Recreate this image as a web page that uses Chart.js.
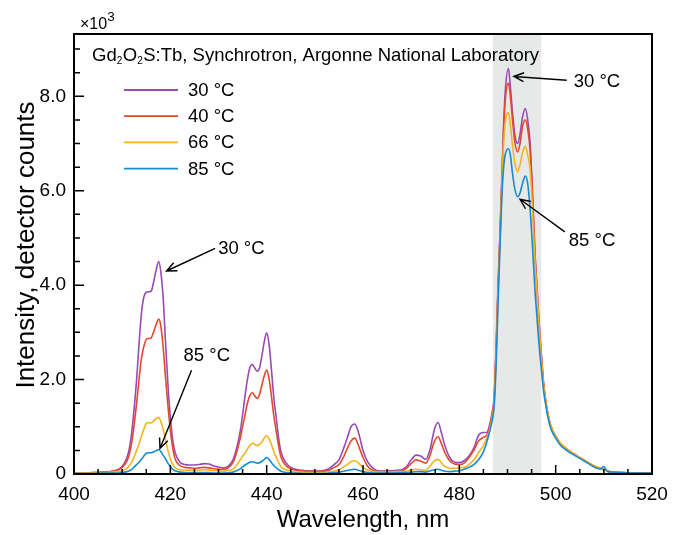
<!DOCTYPE html>
<html>
<head>
<meta charset="utf-8">
<script src="https://cdn.jsdelivr.net/npm/chart.js@4"></script>
<style>
  html, body { margin: 0; padding: 0; background: #fff; }
  #wrap { width: 682px; height: 535px; }
</style>
</head>
<body>
<div id="wrap"><canvas id="chart" width="682" height="535"></canvas></div>
<script>
const FONT = '"Liberation Sans", Arial, Helvetica, sans-serif';

const wavelength = [
  400, 402, 404, 406, 408, 409, 410, 411, 411.5, 412, 412.5, 413, 413.5, 414, 414.5, 415, 415.5, 416, 416.5, 417,
  417.6, 418, 418.5, 419, 419.5, 420, 420.5, 421, 422, 423, 424, 425, 426, 427, 428, 429, 430, 431, 432, 433,
  433.5, 434, 434.5, 435, 435.5, 436, 436.5, 437, 437.5, 438, 438.5, 439, 439.5, 440, 440.5, 441, 441.5, 442, 442.5, 443,
  444, 445, 446, 448, 450, 452, 453, 454, 455, 456, 457, 457.5, 458.3, 459, 459.5, 460, 461, 462, 463, 464,
  466, 468, 469, 470, 471, 472, 473, 474, 474.5, 475, 475.6, 476.2, 477, 478, 479, 480, 481, 482, 483, 484,
  485, 485.7, 486.3, 486.8, 487.2, 487.6, 488, 488.4, 488.8, 489.2, 489.6, 490.2, 490.6, 491, 491.5, 492.1, 492.6, 493.1, 493.7, 494.2,
  494.7, 495.2, 495.7, 496.1, 496.5, 497, 497.5, 498, 498.5, 499, 500, 501, 502, 503, 504, 505, 506, 507, 508, 509,
  509.5, 510, 510.5, 511, 512, 514, 516, 518, 520
];

// intensity in units of 10^3 detector counts
const counts30C = [
  .02, .02, .03, .04, .06, .09, .16, .35, .55, .9, 1.4, 2.0, 2.75, 3.4, 3.75, 3.85, 3.86, 3.87, 4.05, 4.3,
  4.5, 4.3, 3.75, 2.8, 1.9, 1.2, .72, .45, .25, .2, .19, .19, .2, .22, .21, .17, .15, .13, .16, .3,
  .45, .65, .9, 1.25, 1.65, 2.0, 2.25, 2.32, 2.25, 2.18, 2.24, 2.5, 2.8, 2.99, 2.75, 2.2, 1.6, 1.18, .75, .46,
  .24, .14, .1, .07, .06, .08, .12, .2, .3, .55, .85, 1.0, 1.06, .9, .7, .5, .25, .13, .07, .06,
  .07, .09, .15, .3, .4, .38, .31, .55, .8, 1.0, 1.09, .9, .6, .35, .25, .24, .28, .38, .55, .82,
  .88, .88, 1.05, 1.3, 1.6, 2.6, 3.9, 5.0, 6.2, 7.4, 8.2, 8.59, 8.2, 7.7, 7.2, 7.0, 7.2, 7.55, 7.74, 7.5,
  7.0, 5.95, 4.7, 4.0, 3.3, 2.6, 1.92, 1.5, 1.21, 1.0, .8, .64, .55, .47, .41, .34, .28, .22, .16, .12,
  .1, .09, .07, .05, .04, .03, .02, .02, .02
];
const counts40C = [
  .02, .02, .03, .04, .06, .08, .14, .28, .42, .68, 1.05, 1.5, 2.0, 2.45, 2.7, 2.85, 2.87, 2.88, 3.0, 3.15,
  3.28, 3.15, 2.7, 2.05, 1.45, .93, .55, .32, .18, .14, .13, .12, .13, .14, .13, .11, .1, .1, .13, .24,
  .37, .55, .75, 1.0, 1.25, 1.5, 1.66, 1.72, 1.66, 1.6, 1.68, 1.88, 2.08, 2.2, 2.02, 1.64, 1.22, .9, .58, .35,
  .18, .11, .08, .06, .05, .06, .08, .14, .2, .37, .6, .7, .76, .62, .48, .35, .16, .08, .06, .05,
  .05, .06, .12, .22, .3, .27, .23, .42, .6, .73, .79, .66, .45, .28, .21, .2, .23, .35, .5, .7,
  .78, .82, 1.0, 1.25, 1.55, 2.5, 3.8, 4.9, 6.1, 7.3, 8.0, 8.28, 8.0, 7.55, 7.05, 6.82, 7.0, 7.35, 7.5, 7.3,
  6.85, 5.85, 4.65, 3.95, 3.25, 2.55, 1.9, 1.5, 1.22, 1.02, .8, .65, .56, .48, .42, .35, .29, .23, .17, .13,
  .11, .1, .08, .06, .04, .03, .02, .02, .02
];
const counts66C = [
  .02, .02, .02, .03, .04, .05, .07, .12, .18, .25, .36, .5, .64, .8, .95, 1.07, 1.09, 1.08, 1.12, 1.17,
  1.2, 1.12, .95, .72, .5, .32, .2, .13, .09, .08, .08, .08, .08, .09, .08, .07, .07, .06, .08, .1,
  .15, .22, .3, .38, .44, .53, .6, .65, .63, .6, .62, .68, .76, .81, .75, .62, .47, .35, .24, .15,
  .09, .06, .04, .03, .03, .03, .04, .06, .09, .15, .22, .26, .28, .24, .19, .14, .08, .05, .04, .04,
  .04, .05, .06, .08, .1, .09, .08, .18, .25, .29, .31, .25, .16, .12, .12, .13, .14, .2, .3, .45,
  .6, .76, .95, 1.2, 1.5, 2.4, 3.7, 4.8, 6.0, 7.0, 7.5, 7.65, 7.4, 7.0, 6.6, 6.4, 6.55, 6.8, 6.94, 6.75,
  6.45, 5.6, 4.5, 3.9, 3.2, 2.5, 1.88, 1.5, 1.22, 1.02, .8, .65, .56, .48, .42, .35, .29, .23, .17, .13,
  .11, .1, .08, .06, .04, .03, .02, .02, .02
];
const counts85C = [
  .01, .01, .01, .02, .02, .02, .03, .05, .07, .1, .15, .2, .25, .31, .38, .44, .45, .45, .47, .49,
  .52, .48, .4, .32, .23, .16, .1, .07, .04, .03, .03, .03, .03, .03, .03, .02, .02, .02, .03, .04,
  .06, .08, .11, .15, .19, .22, .25, .26, .25, .23, .24, .27, .31, .35, .31, .24, .18, .13, .09, .06,
  .03, .02, .02, .01, .01, .01, .02, .03, .04, .06, .08, .09, .1, .08, .07, .05, .03, .02, .02, .02,
  .02, .03, .03, .04, .05, .05, .04, .07, .08, .09, .1, .08, .06, .05, .06, .07, .1, .14, .2, .3,
  .47, .68, .9, 1.12, 1.4, 2.2, 3.5, 4.7, 5.8, 6.5, 6.8, 6.89, 6.75, 6.4, 6.05, 5.87, 5.95, 6.15, 6.31, 6.15,
  5.6, 4.8, 3.9, 3.35, 2.8, 2.25, 1.75, 1.42, 1.15, .96, .76, .61, .52, .45, .39, .33, .27, .21, .15, .11,
  .12, .16, .08, .05, .04, .03, .02, .02, .02
];

const seriesNames = ["30 °C", "40 °C", "66 °C", "85 °C"];
const seriesValues = [counts30C, counts40C, counts66C, counts85C];
const seriesColors = ["#9a4ab3", "#e4482b", "#f3b41e", "#168bd2"];

const xTicks = [400, 420, 440, 460, 480, 500, 520];
const yTicks = [0, 2, 4, 6, 8];
const shadedBand = [487, 497];

const datasets = seriesValues.map((vals, i) => ({
  label: seriesNames[i],
  data: wavelength.map((w, j) => ({ x: w, y: vals[j] })),
  borderColor: seriesColors[i],
  backgroundColor: seriesColors[i],
  borderWidth: 1.6,
  pointRadius: 0,
  cubicInterpolationMode: "monotone",
  order: 4 - i,
}));

function arrow(ctx, x1, y1, x2, y2) {
  const ang = Math.atan2(y2 - y1, x2 - x1);
  const head = 11, spread = 0.42;
  ctx.beginPath();
  ctx.moveTo(x1, y1);
  ctx.lineTo(x2, y2);
  ctx.moveTo(x2 - head * Math.cos(ang - spread), y2 - head * Math.sin(ang - spread));
  ctx.lineTo(x2, y2);
  ctx.lineTo(x2 - head * Math.cos(ang + spread), y2 - head * Math.sin(ang + spread));
  ctx.stroke();
}

const decorations = {
  id: "decorations",
  beforeDatasetsDraw(chart) {
    const { ctx, chartArea: a, scales: { x } } = chart;
    ctx.save();
    ctx.fillStyle = "#e7e9e9";
    const x0 = x.getPixelForValue(shadedBand[0]);
    const x1 = x.getPixelForValue(shadedBand[1]);
    ctx.fillRect(x0, a.top, x1 - x0, a.bottom - a.top);
    ctx.restore();
  },
  afterDraw(chart) {
    const { ctx, chartArea: a, scales: { x, y } } = chart;
    ctx.save();
    ctx.strokeStyle = "#000";
    ctx.fillStyle = "#000";

    // ticks (inward)
    ctx.lineWidth = 1.5;
    ctx.beginPath();
    for (let v = 400; v <= 520; v += 5) {
      const px = x.getPixelForValue(v);
      const len = v % 20 === 0 ? 9 : 5;
      ctx.moveTo(px, a.bottom);
      ctx.lineTo(px, a.bottom - len);
    }
    for (let v = 0; v <= 9; v += 0.5) {
      const py = y.getPixelForValue(v);
      const len = v % 2 === 0 ? 10 : 6;
      ctx.moveTo(a.left, py);
      ctx.lineTo(a.left + len, py);
    }
    ctx.stroke();

    // frame
    ctx.lineWidth = 2;
    ctx.strokeRect(a.left, a.top, a.right - a.left, a.bottom - a.top);

    // title with subscripts
    ctx.textBaseline = "alphabetic";
    ctx.textAlign = "left";
    let tx = a.left + 18;
    const ty = a.top + 27;
    const parts = [["Gd", 0], ["2", 1], ["O", 0], ["2", 1], ["S:Tb, Synchrotron, Argonne National Laboratory", 0]];
    for (const [t, sub] of parts) {
      ctx.font = sub ? `10px ${FONT}` : `18.5px ${FONT}`;
      ctx.fillText(t, tx, ty + (sub ? 3 : 0));
      tx += ctx.measureText(t).width + (sub ? 0.5 : 0);
    }

    // legend
    ctx.font = `18.5px ${FONT}`;
    ctx.textBaseline = "middle";
    seriesNames.forEach((name, i) => {
      const ly = a.top + 56 + i * 26.2;
      ctx.strokeStyle = seriesColors[i];
      ctx.lineWidth = 1.8;
      ctx.beginPath();
      ctx.moveTo(a.left + 50, ly);
      ctx.lineTo(a.left + 104, ly);
      ctx.stroke();
      ctx.fillText(name, a.left + 114, ly + 1);
    });

    // annotations: arrow tip and tail in data units
    ctx.strokeStyle = "#000";
    ctx.lineWidth = 1.4;
    const notes = [
      { text: "30 °C", tip: [491.3, 8.42], tail: [502.3, 8.34], dx: 7, dy: 2 },
      { text: "85 °C", tip: [492.6, 5.82], tail: [501.9, 5.13], dx: 4, dy: 9 },
      { text: "30 °C", tip: [419.2, 4.3], tail: [429.3, 4.78], dx: 3, dy: 1 },
      { text: "85 °C", tip: [417.85, 0.54], tail: [424.4, 2.2], dx: -8, dy: -14 },
    ];
    for (const n of notes) {
      const tipX = x.getPixelForValue(n.tip[0]);
      const tipY = y.getPixelForValue(n.tip[1]);
      const tailX = x.getPixelForValue(n.tail[0]);
      const tailY = y.getPixelForValue(n.tail[1]);
      arrow(ctx, tailX, tailY, tipX, tipY);
      ctx.fillText(n.text, tailX + n.dx, tailY + n.dy);
    }

    // exponent label
    ctx.textBaseline = "alphabetic";
    ctx.font = `16px ${FONT}`;
    ctx.fillText("×10", a.left + 6, a.top - 5);
    const w10 = ctx.measureText("×10").width;
    ctx.font = `13.5px ${FONT}`;
    ctx.fillText("3", a.left + 6 + w10, a.top - 13);

    // axis titles
    ctx.font = `24px ${FONT}`;
    ctx.textAlign = "center";
    ctx.textBaseline = "middle";
    ctx.fillText("Wavelength, nm", (a.left + a.right) / 2, 520);
    ctx.translate(27, 245);
    ctx.rotate(-Math.PI / 2);
    ctx.font = `26px ${FONT}`;
    ctx.fillText("Intensity, detector counts", 0, 0);
    ctx.restore();
  },
};

new Chart(document.getElementById("chart"), {
  type: "line",
  data: { datasets },
  options: {
    responsive: false,
    animation: false,
    layout: { padding: { top: 34, right: 30, left: 0, bottom: 0 } },
    plugins: { legend: { display: false }, tooltip: { enabled: false } },
    scales: {
      x: {
        type: "linear",
        min: 400,
        max: 520,
        afterFit: (s) => { s.height = 61; },
        afterBuildTicks: (s) => { s.ticks = xTicks.map((v) => ({ value: v })); },
        grid: { display: false, drawTicks: false },
        border: { display: false },
        ticks: { color: "#000", font: { family: FONT, size: 19 }, padding: 9, maxRotation: 0 },
      },
      y: {
        min: 0,
        max: 9.32,
        afterFit: (s) => { s.width = 74; },
        afterBuildTicks: (s) => { s.ticks = yTicks.map((v) => ({ value: v })); },
        grid: { display: false, drawTicks: false },
        border: { display: false },
        ticks: {
          color: "#000",
          font: { family: FONT, size: 19 },
          padding: 8,
          callback: (v) => (v === 0 ? "0" : v.toFixed(1)),
        },
      },
    },
  },
  plugins: [decorations],
});
</script>
</body>
</html>
